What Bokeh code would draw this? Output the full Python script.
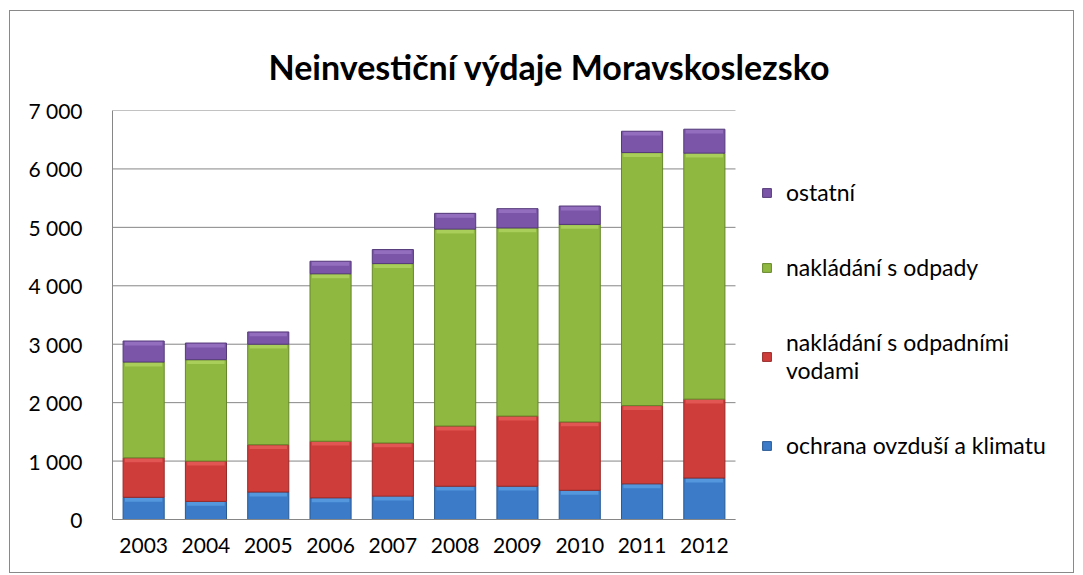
import numpy as np
from bokeh.plotting import figure
from bokeh.models import Legend, LegendItem, FixedTicker, ColumnDataSource
from bokeh.embed import file_html
from bokeh.resources import INLINE

years = ["2003", "2004", "2005", "2006", "2007", "2008", "2009", "2010", "2011", "2012"]
ochrana_ovzdusi = [380, 310, 470, 370, 400, 570, 570, 500, 610, 710]
odpadni_vody = [675, 690, 810, 970, 910, 1030, 1200, 1170, 1340, 1350]
odpady = [1640, 1735, 1720, 2865, 3070, 3370, 3220, 3380, 4330, 4210]
ostatni = [360, 285, 210, 215, 240, 270, 330, 315, 365, 410]

series_keys = ["ochrana", "vody", "odpady", "ostatni"]
series_labels = ["ochrana ovzduší a klimatu", "nakládání s odpadními\nvodami",
                 "nakládání s odpady", "ostatní"]
fill_colors = ["#3b7bc8", "#cf3d3b", "#8eb83f", "#7b55a8"]
light_colors = ["#6aaeee", "#f06c68", "#c0e070", "#a784d0"]
line_colors = ["#2a5a94", "#962a28", "#66872b", "#553a7a"]
y_ticks = [0, 1000, 2000, 3000, 4000, 5000, 6000, 7000]

xs = list(range(len(years)))
data = dict(x=xs, ochrana=ochrana_ovzdusi, vody=odpadni_vody, odpady=odpady, ostatni=ostatni)
source = ColumnDataSource(data)

FONT = "Lato"
BAR_W = 0.66
# frame: 963 px wide; categories occupy 623 px of it, the rest holds the legend
x_end = -0.5 + len(years) * 963 / 623

p = figure(x_range=(-0.5, x_end), y_range=(0, 7000), width=1065, height=563,
           output_backend="svg", toolbar_location=None,
           min_border_left=102, min_border_right=0, min_border_top=99,
           min_border_bottom=55)
p.styles = {"border": "1px solid #898989", "margin-left": "9px", "margin-top": "10px"}

p.title.text = "Neinvestiční výdaje Moravskoslezsko"
p.title.align = "left"
p.title.text_font = FONT
p.title.text_font_size = "34px"
p.title.text_font_style = "bold"
p.title.text_color = "black"
p.title.offset = 156
p.title.standoff = 48

# horizontal gridlines limited to the category area
p.segment(x0=-0.5, x1=len(years) - 0.5, y0=y_ticks, y1=y_ticks,
          line_color="#868686", line_width=1)

renderers = p.vbar_stack(series_keys, x="x", width=BAR_W, source=source,
                         fill_color=fill_colors, line_color=line_colors, line_width=1)

# bevel highlight at the top of every segment
cum = np.cumsum(np.array([data[k] for k in series_keys], dtype=float), axis=0)
for i in range(len(series_keys)):
    top = cum[i]
    p.vbar(x=xs, top=top - 12, bottom=top - 75, width=BAR_W - 0.06,
           fill_color=light_colors[i], fill_alpha=0.55, line_color=None)

items = [LegendItem(label=series_labels[i], renderers=[renderers[i]]) for i in [3, 2, 1, 0]]
legend = Legend(items=items, location=(649, 60), border_line_color=None,
                background_fill_alpha=0, label_text_font=FONT, label_text_font_size="23px",
                label_text_color="black", glyph_width=11, glyph_height=11, spacing=47,
                padding=15, margin=0, label_standoff=14)
p.add_layout(legend)

p.yaxis.ticker = FixedTicker(ticks=y_ticks)
p.yaxis.major_label_overrides = {t: f"{t:,}".replace(",", " ") for t in y_ticks}
p.xaxis.ticker = FixedTicker(ticks=xs)
p.xaxis.major_label_overrides = {i: y for i, y in enumerate(years)}
p.xaxis.bounds = (-0.5, len(years) - 0.5)
for ax in (p.xaxis, p.yaxis):
    ax.major_tick_line_color = None
    ax.minor_tick_line_color = None
    ax.axis_line_color = "#868686"
    ax.major_label_text_font = FONT
    ax.major_label_text_font_size = "21px"
    ax.major_label_text_color = "black"
p.yaxis.major_label_standoff = 24
p.xaxis.major_label_standoff = 12

p.xgrid.grid_line_color = None
p.ygrid.grid_line_color = None
p.outline_line_color = None

open("out.html", "w").write(file_html(p, INLINE))
